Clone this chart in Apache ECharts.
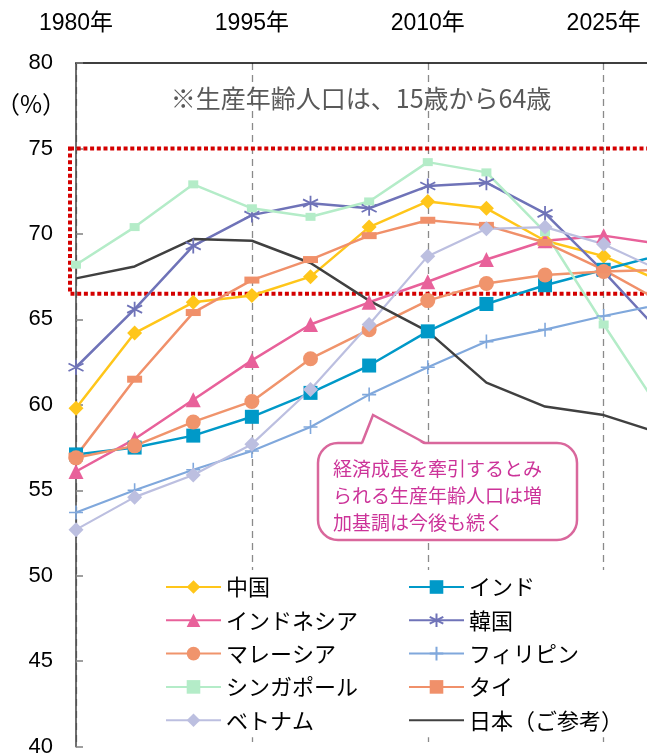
<!DOCTYPE html>
<html>
<head>
<meta charset="utf-8">
<script src="https://cdn.jsdelivr.net/npm/echarts@6/dist/echarts.min.js"></script>
<style>
  html, body { margin: 0; padding: 0; background: #fff; }
  #chart { width: 647px; height: 756px; }
</style>
</head>
<body>
<div id="chart"></div>
<script>
// 生産年齢人口比率（%）, 5年ごと
const years = [1980, 1985, 1990, 1995, 2000, 2005, 2010, 2015, 2020, 2025, 2030];
const xLabels = [1980, 1995, 2010, 2025];

const china       = [59.8, 64.2, 66.0, 66.4, 67.5, 70.4, 71.9, 71.5, 69.6, 68.7, 67.2];
const india       = [57.1, 57.5, 58.2, 59.3, 60.7, 62.3, 64.3, 65.9, 67.0, 67.9, 68.8];
const indonesia   = [56.1, 58.0, 60.3, 62.6, 64.7, 66.0, 67.2, 68.5, 69.6, 69.9, 69.4];
const korea       = [62.2, 65.6, 69.3, 71.1, 71.8, 71.5, 72.8, 73.0, 71.2, 67.8, 64.1];
const malaysia    = [56.9, 57.6, 59.0, 60.2, 62.7, 64.4, 66.1, 67.1, 67.6, 67.8, 67.9];
const philippines = [53.7, 55.0, 56.2, 57.3, 58.7, 60.6, 62.2, 63.7, 64.4, 65.2, 65.9];
const singapore   = [68.2, 70.4, 72.9, 71.5, 71.0, 71.9, 74.2, 73.6, 70.1, 64.7, 59.5];
const thailand    = [57.0, 61.5, 65.4, 67.3, 68.5, 69.9, 70.8, 70.5, 69.5, 67.9, 66.0];
const vietnam     = [52.7, 54.6, 55.9, 57.7, 60.9, 64.7, 68.7, 70.3, 70.4, 69.4, 67.8];
const japan       = [67.4, 68.1, 69.7, 69.6, 68.3, 66.1, 64.3, 61.3, 59.9, 59.4, 58.3];

// 赤い点線枠の範囲
const boxHigh = 75;
const boxLow = 66.5;

const JP = "'Noto Sans CJK JP', sans-serif";
const NUM = "'Liberation Sans', 'Noto Sans CJK JP', sans-serif";

const starPath = 'path://M10,0 L10,20 M1.34,5 L18.66,15 M1.34,15 L18.66,5';
const plusPath = 'path://M10,0 L10,20 M0,10 L20,10';

function line(name, values, color, symbol, size, width, stroke) {
  return {
    name: name,
    type: 'line',
    data: years.map((y, i) => [y, values[i]]),
    symbol: symbol,
    symbolSize: size,
    lineStyle: { color: color, width: width },
    itemStyle: stroke
      ? { color: color, borderColor: color, borderWidth: stroke }
      : { color: color },
    emphasis: { disabled: true }
  };
}

const series = [
  line('中国', china, '#ffc61a', 'diamond', 15, 2.5),
  line('インド', india, '#0099c8', 'rect', 14, 2.5),
  line('インドネシア', indonesia, '#e8619a', 'triangle', 15, 2.5),
  line('韓国', korea, '#6f73b8', starPath, 15, 2.5, 1.8),
  line('マレーシア', malaysia, '#f0946c', 'circle', 15, 2.5),
  line('フィリピン', philippines, '#80a8dc', plusPath, 14, 2.2, 1.6),
  line('シンガポール', singapore, '#b4ecc8', 'rect', [10, 8], 2.5),
  line('タイ', thailand, '#f0906a', 'rect', [15, 7], 2.5),
  line('ベトナム', vietnam, '#bcbfe0', 'diamond', 15, 2.2),
  line('日本（ご参考）', japan, '#404040', 'none', 0, 2.5)
];

const legendText = { fontSize: 22, color: '#000', fontFamily: JP, lineHeight: 22 };

const chart = echarts.init(document.getElementById('chart'));
chart.setOption({
  animation: false,
  backgroundColor: '#fff',
  grid: { left: 76, top: 63, right: -15.3, bottom: 9.3, outerBoundsMode: 'none' },
  xAxis: {
    type: 'value',
    position: 'top',
    min: 1980,
    max: 2030,
    interval: 15,
    axisLine: { show: true, lineStyle: { color: '#000', width: 1.5 } },
    axisTick: { show: false },
    axisLabel: {
      fontSize: 23, color: '#000', fontFamily: NUM, margin: 28, showMaxLabel: false,
      formatter: v => (xLabels.indexOf(v) >= 0 ? v + '年' : '')
    },
    splitLine: { show: true, lineStyle: { color: '#8a8a8a', width: 1.3, type: [7, 5] } }
  },
  yAxis: {
    type: 'value',
    min: 40,
    max: 80,
    interval: 5,
    axisLine: { show: true, lineStyle: { color: '#404040', width: 1.5 } },
    axisTick: { show: true, inside: true, length: 7, lineStyle: { color: '#808080', width: 1.5 } },
    axisLabel: { fontSize: 22, color: '#000', fontFamily: NUM, margin: 23 },
    splitLine: { show: false }
  },
  legend: [
    {
      data: ['中国', 'インドネシア', 'マレーシア', 'シンガポール', 'ベトナム'],
      orient: 'vertical', left: 155, top: 570,
      padding: [6, 45, 6, 10], backgroundColor: '#fff',
      itemWidth: 55, itemHeight: 17, itemGap: 11.3,
      textStyle: legendText, selectedMode: false
    },
    {
      data: ['インド', '韓国', 'フィリピン', 'タイ',
        { name: '日本（ご参考）', itemStyle: { opacity: 0 } }],
      orient: 'vertical', left: 405, top: 570,
      padding: [6, 25, 6, 3], backgroundColor: '#fff',
      itemWidth: 55, itemHeight: 17, itemGap: 11.3,
      textStyle: legendText, selectedMode: false
    }
  ],
  series: series
});

// 注記と枠
const tl = chart.convertToPixel({ gridIndex: 0 }, [1980, boxHigh]);
const br = chart.convertToPixel({ gridIndex: 0 }, [2030, boxLow]);

const pink = '#d9679c';

chart.setOption({
  graphic: [
    {
      type: 'rect', z: 1, silent: true,
      shape: { x: tl[0] - 6, y: tl[1], width: br[0] - tl[0] + 20, height: br[1] - tl[1] },
      style: { fill: null, stroke: '#d40000', lineWidth: 4, lineDash: [4, 2.7] }
    },
    {
      type: 'text', z: 10, silent: true, x: 361, y: 98,
      style: {
        text: '※生産年齢人口は、15歳から64歳', fill: '#595959',
        fontSize: 25, fontFamily: JP, align: 'center', verticalAlign: 'middle'
      }
    },
    {
      type: 'text', z: 10, silent: true, x: 31, y: 104,
      style: {
        text: '（%）', fill: '#000', fontSize: 24, fontFamily: JP,
        align: 'center', verticalAlign: 'middle'
      }
    },
    // 吹き出し
    {
      type: 'rect', z: 10, silent: true,
      shape: { x: 318, y: 443, width: 259, height: 97, r: 20 },
      style: { fill: '#fff', stroke: pink, lineWidth: 2.5 }
    },
    {
      type: 'polygon', z: 11, silent: true,
      shape: { points: [[362, 445], [373, 415], [425, 445]] },
      style: { fill: '#fff' }
    },
    {
      type: 'polyline', z: 12, silent: true,
      shape: { points: [[362, 443], [373, 415], [425, 443]] },
      style: { fill: null, stroke: pink, lineWidth: 2.5 }
    },
    {
      type: 'text', z: 12, silent: true, x: 333, y: 455,
      style: {
        text: '経済成長を牽引するとみ\nられる生産年齢人口は増\n加基調は今後も続く',
        fill: '#cc3399', fontSize: 19, fontFamily: JP, lineHeight: 27,
        align: 'left', verticalAlign: 'top'
      }
    }
  ]
});
</script>
</body>
</html>
